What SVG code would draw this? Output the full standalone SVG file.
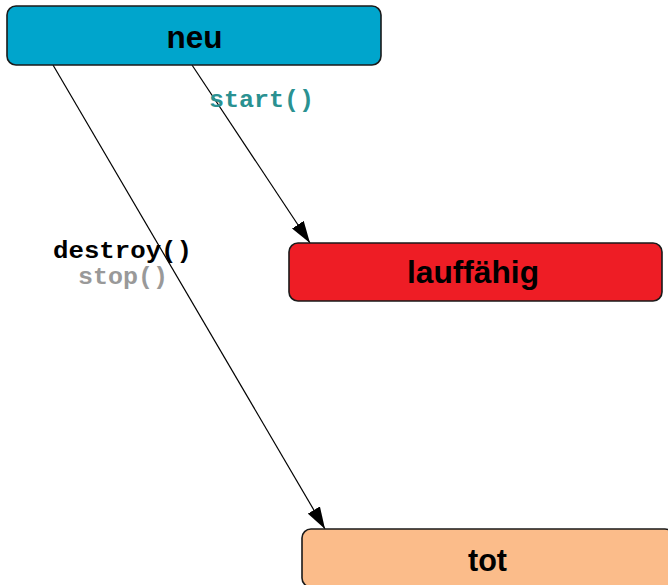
<svg xmlns="http://www.w3.org/2000/svg" width="668" height="585" viewBox="0 0 668 585">
<defs>
<marker id="arr" viewBox="0 0 22 14" refX="22" refY="7" markerWidth="22" markerHeight="14" markerUnits="userSpaceOnUse" orient="auto">
<path d="M0,0 L22,7 L0,14 Z" fill="#000"/>
</marker>
</defs>
<style>
.box{stroke:#1a1a1a;stroke-width:1.6}
.lbl{font-family:"Liberation Sans",Arial,sans-serif;font-weight:bold;font-size:31px;fill:#000;text-anchor:middle}
.code{font-family:"Liberation Mono","Courier New",monospace;font-weight:bold;font-size:23px}
.edge{stroke:#000;stroke-width:1.2;fill:none;marker-end:url(#arr)}
</style>
<g id="connectors">
<line class="edge" x1="192" y1="65" x2="310" y2="243"/>
<line class="edge" x1="53" y1="65" x2="325" y2="529"/>
<text class="code" x="209" y="107" fill="#2a9191" textLength="105" lengthAdjust="spacingAndGlyphs">start()</text>
<text class="code" x="53" y="258" fill="#000" textLength="139" lengthAdjust="spacingAndGlyphs">destroy()</text>
<text class="code" x="78" y="284" fill="#999" textLength="90" lengthAdjust="spacingAndGlyphs">stop()</text>
</g>
<g id="neu">
<rect class="box" x="7" y="6" width="374" height="59" rx="9" fill="#00a5cc"/>
<text class="lbl" x="194.5" y="48" textLength="56" lengthAdjust="spacingAndGlyphs">neu</text>
</g>
<g id="lauffaehig">
<rect class="box" x="289" y="243" width="373" height="58" rx="9" fill="#ee1d25"/>
<text class="lbl" x="473" y="283" textLength="132" lengthAdjust="spacingAndGlyphs">lauffähig</text>
</g>
<g id="tot">
<rect class="box" x="302" y="529" width="372" height="58" rx="9" fill="#fbbc8a"/>
<text class="lbl" x="487.5" y="571" textLength="39" lengthAdjust="spacingAndGlyphs">tot</text>
</g>
</svg>
